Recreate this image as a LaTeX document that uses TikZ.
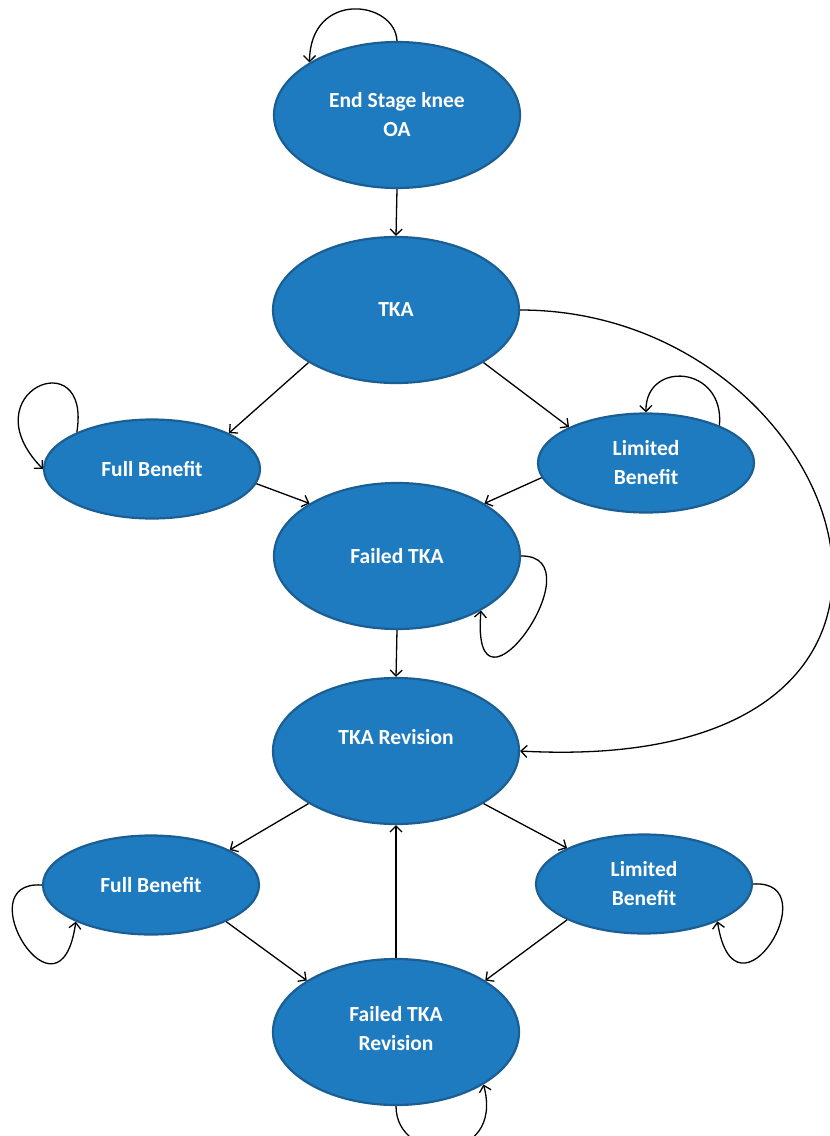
\documentclass[tikz,border=0pt]{standalone}
\usepackage{fontspec}
\setmainfont{Carlito}
\usetikzlibrary{shapes.geometric,arrows.meta}
\definecolor{nodefill}{HTML}{1F7BBF}
\definecolor{nodeline}{HTML}{1A5E94}
\begin{document}
\begin{tikzpicture}[x=1pt,y=-1pt,
  state/.style={ellipse, draw=nodeline, fill=nodefill, line width=2.2pt, text=white, inner sep=0pt, align=center, font=\bfseries\fontsize{21.5}{29}\selectfont},
  big/.style={state, minimum width=246pt, minimum height=146pt},
  small/.style={state, minimum width=216pt, minimum height=99pt},
  link/.style={line width=1.3pt, -{Straight Barb[length=6pt,width=12pt]}}
]
\useasboundingbox (0,0) rectangle (830,1136);
\node[big] (esk) at (397,115) {End Stage knee\\OA};
\node[big] (tka) at (396,310) {TKA};
\node[small] (fb1) at (152,469) {Full Benefit};
\node[small] (lb1) at (646,463) {Limited\\Benefit};
\node[big] (ftka) at (397,556) {Failed TKA};
\node[big] (tkar) at (396,751) {\raisebox{28pt}{TKA Revision}};
\node[small] (fb2) at (151,885) {Full Benefit};
\node[small] (lb2) at (644,884) {Limited\\Benefit};
\node[big] (ftkar) at (396,1032) {\raisebox{28pt}{\begin{tabular}{@{}c@{}}Failed TKA\\Revision\end{tabular}}};

\draw[link] (esk.south) -- (tka.north);
\draw[link] (tka.211) -- (fb1.25);
\draw[link] (tka.329) -- (lb1.155);
\draw[link] (fb1.352) -- (ftka.149);
\draw[link] (lb1.188) -- (ftka.31);
\draw[link] (ftka.south) -- (tkar.north);
\draw[link] (tkar.211) -- (fb2.24);
\draw[link] (tkar.329) -- (lb2.155);
\draw[link] (fb2.334) -- (ftkar.150);
\draw[link] (lb2.205) -- (ftkar.30);
\draw[link] (ftkar.north) -- (tkar.south);
\draw[link] (tka.east) .. controls (850,310) and (1015,778) .. (tkar.east);

\draw[link] (esk.90) .. controls (395,0) and (310,-10) .. (esk.149);
\draw[link] (fb1.154) .. controls (92,340) and (-32,392) .. (fb1.180);
\draw[link] (lb1.27) .. controls (725,365) and (645,360) .. (lb1.90);
\draw[link] (ftka.0) .. controls (600,555) and (470,740) .. (ftka.327);
\draw[link] (fb2.180) .. controls (-35,880) and (60,1035) .. (fb2.206);
\draw[link] (lb2.0) .. controls (830,879) and (735,1034) .. (lb2.333);
\draw[link] (ftkar.270) .. controls (396,1165) and (505,1165) .. (ftkar.329);
\end{tikzpicture}
\end{document}
